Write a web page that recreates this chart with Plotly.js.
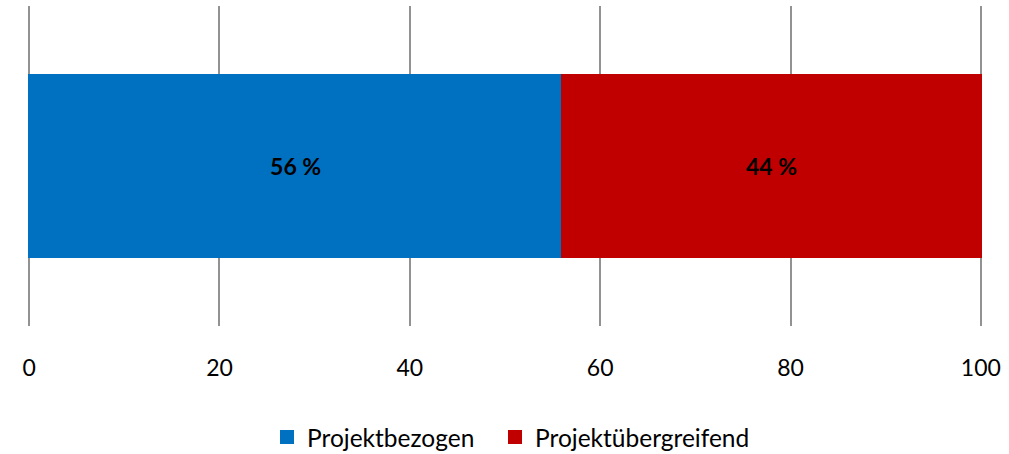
<!DOCTYPE html>
<html>
<head>
<meta charset="utf-8">
<script src="https://cdn.plot.ly/plotly-3.0.1.min.js"></script>
<style>html,body{margin:0;padding:0;background:#fff;}#chart{width:1009px;height:454px;}</style>
</head>
<body>
<div id="chart"></div>
<script>
const categories = [""];
const seriesNames = ["Projektbezogen", "Projektübergreifend"];
const projektbezogen = [56];
const projektuebergreifend = [44];
const labels1 = ["56 %"];
const labels2 = ["44 %"];
const tickVals = [0, 20, 40, 60, 80, 100];

const font = "Lato, 'Open Sans', sans-serif";
const colors = ['#0070C0', '#C00000'];
const common = {
  type: 'bar', orientation: 'h', y: categories, width: 0.566,
  textposition: 'inside', insidetextanchor: 'middle',
  textfont: {family: font, size: 23, color: '#000', weight: 'bold'},
  hoverinfo: 'none'
};
const data = [
  Object.assign({}, common, {name: seriesNames[0], x: projektbezogen, text: labels1, legend: 'legend',
    marker: {color: colors[0], line: {color: colors[0], width: 2}}}),
  Object.assign({}, common, {name: seriesNames[1], x: projektuebergreifend, text: labels2, legend: 'legend2',
    marker: {color: colors[1], line: {color: colors[1], width: 2}}})
];
const legendBase = {
  orientation: 'h', xanchor: 'left', xref: 'container',
  y: 0.0374, yanchor: 'middle', yref: 'container',
  font: {family: font, size: 24.5, color: '#000'}, itemwidth: 30
};
const layout = {
  width: 1009, height: 454,
  margin: {l: 28, r: 27, t: 6, b: 128, autoexpand: false},
  barmode: 'stack',
  paper_bgcolor: '#fff', plot_bgcolor: '#fff',
  font: {family: font, size: 22, color: '#000'},
  xaxis: {
    range: [-0.12, 100.12], tickvals: tickVals, showgrid: true, gridcolor: '#929292', gridwidth: 2,
    zeroline: false, showline: false, ticks: '', ticklabelstandoff: 26,
    tickfont: {family: font, size: 23, color: '#000'}, fixedrange: true
  },
  yaxis: {range: [-0.5, 0.5], showticklabels: false, showgrid: false, zeroline: false, showline: false, ticks: ''},
  showlegend: true,
  legend: Object.assign({}, legendBase, {x: 267 / 1009}),
  legend2: Object.assign({}, legendBase, {x: 495 / 1009})
};
Plotly.newPlot('chart', data, layout, {displayModeBar: false, staticPlot: true});
</script>
</body>
</html>
